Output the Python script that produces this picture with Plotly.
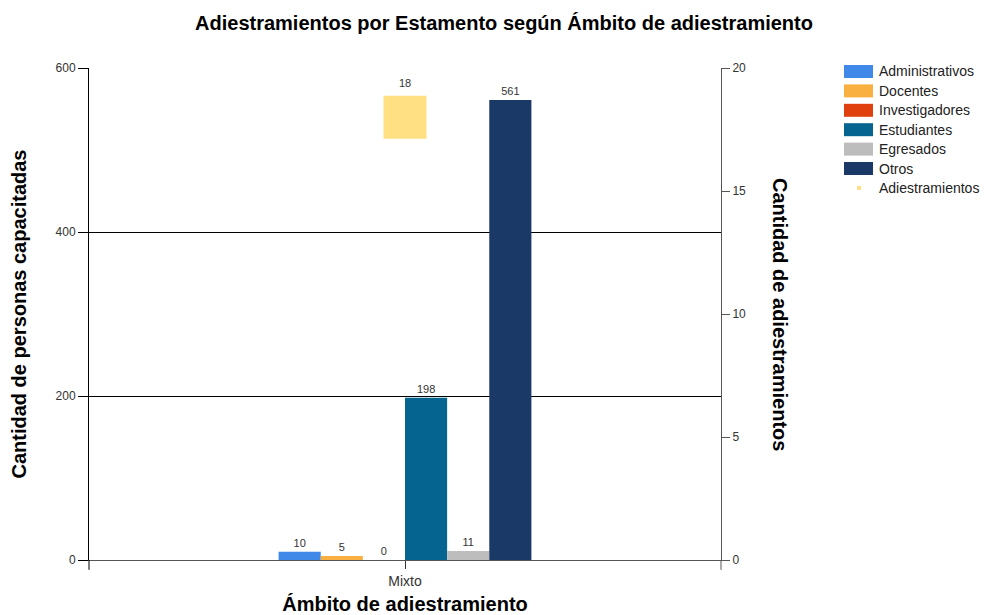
import plotly.graph_objects as go

categories = ["Mixto"]
series_names = ["Administrativos", "Docentes", "Investigadores", "Estudiantes", "Egresados", "Otros"]
series_values = [[10], [5], [0], [198], [11], [561]]
series_colors = ["#4189E8", "#F9B040", "#E0400E", "#066491", "#BDBDBD", "#1B3966"]
line_name = "Adiestramientos"
adiestramientos = [18]
line_color = "#FFE082"

font_family = "Liberation Sans, Arial, sans-serif"

# figure is placed by the page with an 8px body margin
W, H = 980, 607
ML, MR, MT, MB = 81, 267, 60, 55
PW, PH = W - ML - MR, H - MT - MB


def px_to_paper_x(px):
    return (px - 8 - ML) / PW


def px_to_paper_y(py):
    return (H - MB - (py - 8)) / PH


fig = go.Figure()
for name, vals, col in zip(series_names, series_values, series_colors):
    fig.add_trace(go.Bar(
        x=categories, y=vals, name=name, marker_color=col,
        marker_line_width=0,
        text=[str(v) for v in vals], textposition="outside",
        textfont=dict(size=11, color="#333333", family=font_family),
        cliponaxis=False, showlegend=False,
    ))

fig.add_trace(go.Scatter(
    x=categories, y=adiestramientos, name=line_name, yaxis="y2",
    mode="markers+text", marker=dict(symbol="square", size=43, color=line_color),
    text=[str(v) for v in adiestramientos], textposition="top center",
    textfont=dict(size=11, color="#333333", family=font_family),
    cliponaxis=False, showlegend=False,
))

# legend drawn as shapes + text, as in the reference
shapes = [
    dict(type="line", xref="paper", yref="paper", x0=0, x1=0, y0=0, y1=-0.02,
         line=dict(color="#000000", width=1)),
    dict(type="line", xref="paper", yref="paper", x0=1, x1=1, y0=0, y1=-0.02,
         line=dict(color="#555555", width=1)),
]
annotations = [
    dict(text="<b>Cantidad de adiestramientos</b>", textangle=90,
         xref="paper", yref="paper", x=px_to_paper_x(780), y=0.5,
         xanchor="center", yanchor="middle",
         showarrow=False, font=dict(size=20, color="black")),
]
legend_names = series_names + [line_name]
legend_colors = series_colors + [line_color]
for i, (name, col) in enumerate(zip(legend_names, legend_colors)):
    yc = 71.5 + 19.4 * i
    if i < len(series_names):
        x0, x1, y0, y1 = 844, 873, yc - 6.5, yc + 6.5
    else:
        x0, x1, y0, y1 = 857, 861, yc - 2, yc + 2
    shapes.append(dict(type="rect", xref="paper", yref="paper",
                       x0=px_to_paper_x(x0), x1=px_to_paper_x(x1),
                       y0=px_to_paper_y(y1), y1=px_to_paper_y(y0),
                       fillcolor=col, line=dict(width=0)))
    annotations.append(dict(text=name, xref="paper", yref="paper",
                            x=px_to_paper_x(877), y=px_to_paper_y(yc),
                            xanchor="left", yanchor="middle", showarrow=False,
                            font=dict(size=14, color="#222222")))

fig.update_layout(
    width=W, height=H,
    margin=dict(l=ML, r=MR, t=MT, b=MB, autoexpand=False),
    paper_bgcolor="white", plot_bgcolor="white",
    font=dict(family=font_family, color="#333333", size=12),
    title=dict(text="<b>Adiestramientos por Estamento según Ámbito de adiestramiento</b>",
               x=(504 - 8) / W, xanchor="center", y=1 - (23 - 8) / H, yanchor="middle",
               font=dict(size=20, color="black")),
    barmode="group", bargap=0.6, bargroupgap=0,
    showlegend=False,
    xaxis=dict(
        title=dict(text="<b>Ámbito de adiestramiento</b>", font=dict(size=20, color="black"), standoff=12),
        showline=True, linecolor="#555555", linewidth=1,
        ticks="outside", ticklen=8, tickcolor="#333333",
        tickfont=dict(size=14, color="#333333"),
    ),
    yaxis=dict(
        title=dict(text="<b>Cantidad de personas capacitadas</b>", font=dict(size=20, color="black"), standoff=26),
        range=[0, 600], tickvals=[0, 200, 400, 600],
        showgrid=True, gridcolor="#000000", gridwidth=1,
        zeroline=False,
        showline=True, linecolor="#000000", linewidth=1,
        ticks="outside", ticklen=10, tickcolor="#000000",
        tickfont=dict(size=12, color="#333333"),
    ),
    yaxis2=dict(
        overlaying="y", side="right",
        range=[0, 20], tickvals=[0, 5, 10, 15, 20],
        showgrid=False, zeroline=False,
        showline=True, linecolor="#555555", linewidth=1,
        ticks="outside", ticklen=8, tickcolor="#555555",
        tickfont=dict(size=12, color="#333333"),
    ),
    annotations=annotations,
    shapes=shapes,
)

fig.write_html("out.html")
